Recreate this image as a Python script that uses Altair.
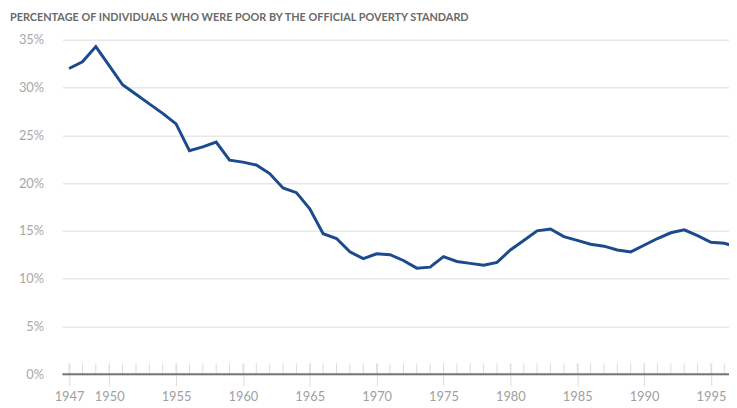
import altair as alt
import pandas as pd

years = list(range(1947, 1998))
rates = [32.0, 32.7, 34.3, 32.3, 30.3, 29.3, 28.3, 27.3, 26.2, 23.4,
         23.8, 24.3, 22.4, 22.2, 21.9, 21.0, 19.5, 19.0, 17.3, 14.7,
         14.2, 12.8, 12.1, 12.6, 12.5, 11.9, 11.1, 11.2, 12.3, 11.8,
         11.6, 11.4, 11.7, 13.0, 14.0, 15.0, 15.2, 14.4, 14.0, 13.6,
         13.4, 13.0, 12.8, 13.5, 14.2, 14.8, 15.1, 14.5, 13.8, 13.7,
         13.3]
tick_years = [1947, 1950, 1955, 1960, 1965, 1970, 1975, 1980, 1985, 1990, 1995]
y_ticks = [0, 5, 10, 15, 20, 25, 30, 35]
minor_years = list(range(1947, 1998))

df = pd.DataFrame({"year": years, "rate": rates})
minor = pd.DataFrame({"year": minor_years, "lo": [0] * len(minor_years), "hi": [1.14] * len(minor_years)})

xscale = alt.Scale(domain=[1946.5, 1996.35], nice=False, zero=False)
yscale = alt.Scale(domain=[0, 35], nice=False)

line = alt.Chart(df).mark_line(color="#1b4b8c", strokeWidth=3, clip=True).encode(
    x=alt.X("year:Q", scale=xscale, title=None,
            axis=alt.Axis(values=tick_years, format="d", grid=False, domain=False,
                          ticks=True, tickSize=23, tickColor="#dddddd", tickWidth=1,
                          offset=-11, labelPadding=5, labelFont="Lato", labelFontSize=13,
                          labelColor="#a0a0a0", labelFlush=False)),
    y=alt.Y("rate:Q", scale=yscale, title=None,
            axis=alt.Axis(values=y_ticks, labelExpr="datum.value + '%'", grid=True,
                          gridColor="#e8e8e8", gridWidth=1.5, domain=False, ticks=False,
                          labelPadding=19, labelFont="Lato", labelFontSize=13,
                          labelColor="#a8a8a8")),
)

minor_ticks = alt.Chart(minor).mark_rule(color="#dddddd", strokeWidth=1).encode(
    x=alt.X("year:Q", scale=xscale),
    y=alt.Y("lo:Q", scale=yscale),
    y2="hi:Q",
)

base = alt.Chart(pd.DataFrame({"v": [0]})).mark_rule(color="#777777", strokeWidth=2).encode(
    y=alt.Y("v:Q", scale=yscale),
    x=alt.value(0),
    x2=alt.value(674),
)

chart = alt.layer(minor_ticks, base, line).properties(
    width=674,
    height=338,
    autosize=alt.AutoSizeParams(type="none"),
    padding={"left": 55, "top": 30, "right": 0, "bottom": 30},
    title=alt.TitleParams(
        "PERCENTAGE OF INDIVIDUALS WHO WERE POOR BY THE OFFICIAL POVERTY STANDARD",
        anchor="start", frame="group", font="Lato", fontSize=11, fontWeight="bold",
        color="#6a6a6a", dx=-53, offset=11),
).configure_view(stroke=None)

chart.save("out.html", embed_options={"renderer": "svg", "actions": False})
